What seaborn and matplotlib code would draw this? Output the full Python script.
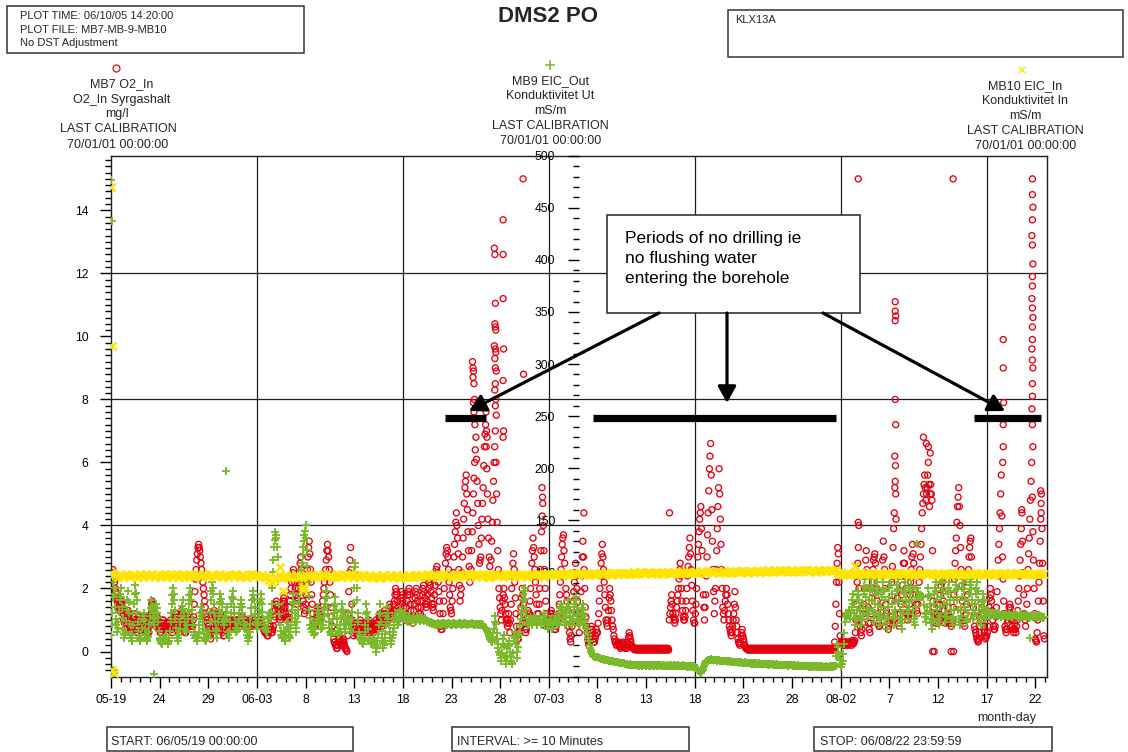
import numpy as np
import pandas as pd
import matplotlib
matplotlib.use("Agg")
import matplotlib.pyplot as plt
import matplotlib.dates as mdates
from matplotlib.ticker import FixedLocator, FixedFormatter, MultipleLocator
from matplotlib.lines import Line2D
from matplotlib.patches import Rectangle, FancyArrowPatch
import seaborn as sns

sns.set_theme(style="ticks")
plt.rcParams["font.family"] = ["Liberation Sans", "DejaVu Sans"]

# ---------------------------------------------------------------- data
START = pd.Timestamp("2006-05-19 00:00")
STOP = pd.Timestamp("2006-08-22 23:59:59")

# MB7 O2_In, mg/l: one row per day, a reading every 90 minutes
o2_may = [
    [2.2, 2.4, 2.3, 2.6, 2.5, 2.3, 2.2, 2.0, 1.9, 1.7, 1.6, 1.5, 1.5, 1.3, 1.4, 1.5],
    [1.3, 1.6, 1.5, 1.3, 1.2, 1.0, 0.9, 0.7, 0.7, 0.8, 1.0, 1.2, 1.3, 1.1, 1.2, 1.0],
    [0.8, 0.7, 0.6, 0.7, 0.9, 1.1, 1.2, 1.1, 1.0, 0.8, 0.7, 0.6, 0.6, 0.9, 1.1, 1.0],
    [0.9, 0.7, 0.6, 0.5, 0.5, 0.7, 0.8, 1.0, 1.1, 1.1, 1.0, 0.8, 0.7, 0.6, 0.6, 0.8],
    [0.9, 1.1, 1.2, 1.5, 1.6, 1.5, 1.4, 1.2, 1.0, 0.9, 0.8, 1.0, 1.1, 1.0, 0.9, 0.8],
    [0.7, 0.6, 0.6, 0.8, 0.9, 1.0, 1.0, 0.9, 0.8, 0.7, 0.6, 0.6, 0.7, 0.8, 0.9, 0.8],
    [0.8, 0.9, 1.0, 0.8, 0.7, 0.6, 0.6, 0.8, 0.9, 1.1, 1.2, 1.1, 1.0, 0.9, 0.8, 0.7],
    [0.6, 0.8, 0.9, 1.1, 1.3, 1.2, 1.1, 0.9, 0.8, 0.7, 0.6, 0.6, 0.7, 0.9, 1.0, 1.1],
    [1.2, 1.0, 0.9, 0.8, 0.7, 0.7, 0.8, 1.0, 1.1, 1.5, 1.9, 2.3, 2.6, 2.9, 3.1, 3.3],
    [3.4, 3.3, 3.2, 3.0, 2.8, 2.6, 2.4, 2.2, 2.0, 1.8, 1.6, 1.4, 1.2, 1.1, 1.0, 0.9],
    [0.8, 0.7, 0.6, 0.5, 0.4, 0.6, 0.7, 0.9, 1.0, 1.2, 1.3, 1.2, 1.1, 0.9, 0.8, 0.7],
    [0.7, 0.9, 1.0, 1.1, 1.2, 1.0, 0.9, 0.7, 0.6, 0.5, 0.5, 0.7, 0.8, 0.9, 1.0, 0.9],
    [0.9, 0.8, 0.8, 0.9, 1.0, 0.8, 0.7, 0.8, 0.9, 1.0, 1.0, 0.9, 0.8, 0.9, 0.9, 1.0],
]
o2_jun = [
    [0.9, 1.0, 1.0, 0.9, 0.8, 0.9, 0.9, 1.0, 1.1, 1.0, 0.9, 0.8, 0.8, 0.9, 1.0, 0.9],
    [0.9, 0.8, 0.8, 0.9, 1.0, 0.9, 0.9, 0.8, 0.8, 0.9, 0.9, 1.0, 1.0, 0.9, 0.8, 0.9],
    [0.9, 0.8, 0.8, 0.9, 0.9, 1.0, 1.0, 0.9, 0.9, 0.8, 0.8, 0.7, 0.7, 0.6, 0.6, 0.6],
    [0.6, 0.5, 0.5, 0.6, 0.7, 0.8, 0.8, 0.7, 0.6, 0.6, 0.7, 0.8, 1.0, 1.1, 1.3, 1.5],
    [1.6, 1.5, 1.4, 1.3, 1.2, 1.1, 1.0, 1.1, 1.3, 1.4, 1.5, 1.6, 1.7, 1.6, 1.4, 1.2],
    [1.1, 1.0, 1.0, 1.1, 1.2, 1.4, 1.6, 1.8, 2.0, 2.2, 2.4, 2.5, 2.6, 2.4, 2.2, 2.0],
    [1.8, 1.6, 1.5, 1.7, 2.0, 2.2, 2.5, 2.8, 3.0, 2.6, 2.2, 1.9, 1.6, 1.4, 1.2, 1.3],
    [1.5, 1.8, 2.2, 2.6, 3.0, 3.3, 3.5, 3.1, 2.6, 2.2, 1.8, 1.5, 1.2, 1.0, 0.9, 0.8],
    [0.8, 0.9, 1.1, 1.3, 1.4, 1.3, 1.2, 1.1, 1.0, 1.1, 1.3, 1.4, 1.6, 1.8, 2.0, 2.2],
    [2.4, 2.6, 2.9, 3.2, 3.4, 3.2, 3.0, 2.6, 2.2, 1.8, 1.4, 1.1, 0.8, 0.6, 0.4, 0.3],
    [0.3, 0.2, 0.2, 0.1, 0.1, 0.2, 0.3, 0.4, 0.5, 0.4, 0.3, 0.2, 0.2, 0.3, 0.4, 0.3],
    [0.2, 0.1, 0.1, 0.05, 0.0, 0.5, 1.2, 1.9, 2.5, 2.9, 3.3, 2.6, 1.5, 1.0, 0.6, 0.5],
    [0.7, 0.8, 0.9, 0.8, 0.6, 0.5, 0.5, 0.6, 0.8, 0.9, 1.0, 0.9, 0.7, 0.6, 0.6, 0.7],
    [0.9, 0.8, 0.7, 0.6, 0.5, 0.6, 0.8, 0.9, 1.0, 0.8, 0.6, 0.6, 0.7, 0.8, 0.9, 0.8],
    [0.6, 0.7, 0.8, 0.9, 1.0, 0.9, 0.7, 0.8, 0.9, 1.1, 1.2, 1.1, 1.0, 0.9, 0.8, 0.9],
    [1.0, 1.2, 1.3, 1.2, 1.1, 1.0, 0.9, 1.0, 1.2, 1.4, 1.5, 1.4, 1.3, 1.2, 1.1, 1.2],
    [1.3, 1.5, 1.6, 1.8, 2.0, 1.9, 1.8, 1.6, 1.4, 1.3, 1.2, 1.3, 1.5, 1.7, 1.9, 1.8],
    [1.6, 1.4, 1.2, 1.1, 1.0, 1.2, 1.4, 1.6, 1.8, 1.9, 2.0, 1.8, 1.5, 1.3, 1.1, 1.0],
    [0.9, 1.1, 1.3, 1.5, 1.7, 1.9, 2.0, 1.8, 1.6, 1.4, 1.2, 1.1, 1.0, 1.2, 1.4, 1.6],
    [1.8, 2.0, 2.1, 1.9, 1.7, 1.5, 1.4, 1.5, 1.6, 1.8, 2.0, 2.2, 2.3, 2.1, 1.9, 1.7],
    [1.5, 1.4, 1.3, 1.5, 1.8, 2.1, 2.4, 2.6, 2.7, 2.5, 2.2, 1.9, 1.6, 1.2, 0.8, 0.7],
    [0.7, 0.9, 1.2, 1.6, 2.0, 2.4, 2.8, 3.1, 3.3, 3.2, 3.0, 2.6, 2.2, 1.8, 1.4, 1.3],
    [1.2, 1.6, 2.0, 2.5, 3.0, 3.4, 3.8, 4.1, 4.4, 4.0, 3.6, 3.1, 2.6, 2.1, 1.6, 1.8],
    [2.0, 2.5, 3.0, 3.6, 4.2, 4.7, 5.2, 5.4, 5.6, 5.0, 4.5, 3.8, 3.2, 2.7, 2.2, 2.4],
    [2.6, 3.2, 3.8, 4.4, 5.0, 5.5, 6.0, 6.4, 6.8, 6.1, 5.4, 4.7, 4.0, 3.4, 2.8, 2.9],
    [3.0, 3.6, 4.2, 4.7, 5.2, 5.9, 6.5, 6.9, 7.2, 6.5, 5.8, 5.0, 4.2, 3.6, 3.0, 2.7],
    [2.4, 2.9, 3.5, 4.1, 4.8, 5.4, 6.0, 6.5, 7.0, 6.0, 5.0, 4.1, 3.2, 2.6, 2.0, 1.7],
    [1.4, 1.2, 1.0, 1.3, 1.6, 1.8, 2.0, 1.7, 1.5, 1.2, 1.0, 0.9, 0.8, 1.0, 1.2, 0.9],
    [0.6, 1.0, 1.5, 2.0, 2.4, 2.8, 3.1, 2.6, 2.2, 1.7, 1.2, 0.8, 0.5, 0.4, 0.4, 0.6],
    [0.8, 1.1, 1.4, 1.7, 2.0, 1.8, 1.5, 1.2, 0.9, 0.7, 0.6, 0.7, 0.9, 1.1, 1.3, 1.2],
]
o2_jul = [
    [1.2, 1.6, 2.0, 2.4, 2.8, 3.2, 3.6, 3.3, 3.0, 2.6, 2.2, 1.8, 1.5, 1.2, 1.0, 1.2],
    [1.5, 2.0, 2.6, 3.2, 3.8, 4.3, 4.7, 4.0, 3.2, 2.6, 2.0, 1.6, 1.2, 1.0, 0.9, 0.8],
    [0.8, 0.9, 1.0, 1.2, 1.3, 1.2, 1.1, 1.0, 0.9, 0.8, 0.7, 0.7, 0.8, 0.9, 1.0, 1.1],
    [1.2, 1.5, 1.8, 2.2, 2.6, 3.0, 3.4, 3.6, 3.7, 3.2, 2.8, 2.4, 2.0, 1.8, 1.6, 1.3],
    [1.0, 0.8, 0.6, 0.4, 0.3, 0.5, 0.8, 1.2, 1.6, 1.9, 2.2, 2.5, 2.8, 2.4, 2.0, 1.6],
    [1.2, 0.9, 0.6, 1.0, 1.4, 1.9, 2.4, 3.0, 3.5, 3.0, 2.6, 2.0, 1.4, 1.1, 0.8, 0.6],
    [0.4, 0.3, 0.2, 0.3, 0.5, 0.7, 0.8, 0.7, 0.6, 0.4, 0.3, 0.3, 0.4, 0.5, 0.7, 0.6],
    [0.6, 0.9, 1.2, 1.6, 2.0, 2.4, 2.8, 3.1, 3.4, 3.0, 2.6, 2.2, 1.8, 1.4, 1.0, 0.9],
    [0.8, 1.0, 1.3, 1.7, 2.0, 1.8, 1.6, 1.3, 1.0, 0.8, 0.7, 0.5, 0.4, 0.3, 0.3, 0.2],
    [0.2, 0.25, 0.3, 0.25, 0.2, 0.15, 0.1, 0.15, 0.2, 0.25, 0.3, 0.25, 0.2, 0.15, 0.1, 0.1],
    [0.1, 0.2, 0.3, 0.45, 0.6, 0.5, 0.4, 0.3, 0.2, 0.15, 0.1, 0.1, 0.1, 0.05, 0.1, 0.1],
    [0.1, 0.05, 0.1, 0.05, 0.1, 0.05, 0.1, 0.05, 0.1, 0.05, 0.1, 0.05, 0.1, 0.05, 0.1, 0.05],
    [0.1, 0.05, 0.1, 0.05, 0.1, 0.05, 0.1, 0.05, 0.1, 0.05, 0.1, 0.05, 0.1, 0.05, 0.1, 0.05],
    [0.1, 0.05, 0.1, 0.05, 0.1, 0.05, 0.1, 0.05, 0.1, 0.05, 0.1, 0.05, 0.1, 0.05, 0.1, 0.05],
    [0.1, 0.05, 0.1, 0.05, 0.1, 0.05, 1.0, 1.2, 1.4, 1.6, 1.8, 1.5, 1.2, 1.1, 1.0, 0.9],
    [1.0, 1.2, 1.4, 1.6, 1.8, 2.0, 2.3, 2.6, 2.8, 2.4, 2.0, 1.6, 1.3, 1.1, 1.0, 1.0],
    [1.1, 1.3, 1.6, 2.0, 2.4, 2.7, 3.0, 3.3, 3.6, 3.1, 2.6, 2.1, 1.6, 1.3, 1.0, 0.9],
    [0.9, 1.2, 1.5, 2.0, 2.5, 3.0, 3.4, 3.8, 4.2, 4.4, 4.6, 3.9, 3.2, 2.5, 1.8, 1.4],
    [1.0, 1.4, 1.8, 2.4, 3.0, 3.7, 4.4, 5.1, 5.8, 6.2, 6.6, 5.6, 4.5, 3.5, 2.6, 1.9],
    [1.2, 1.6, 2.0, 2.6, 3.2, 3.9, 4.6, 5.2, 5.8, 5.0, 4.2, 3.4, 2.6, 2.0, 1.4, 1.2],
    [1.0, 1.3, 1.6, 1.8, 2.0, 1.8, 1.5, 1.2, 1.0, 0.8, 0.7, 0.6, 0.5, 0.6, 0.8, 1.0],
    [1.2, 1.5, 1.9, 1.4, 1.0, 0.8, 0.6, 0.4, 0.3, 0.25, 0.2, 0.3, 0.5, 0.6, 0.7, 0.5],
    [0.4, 0.3, 0.2, 0.15, 0.1, 0.1, 0.1, 0.05, 0.1, 0.05, 0.1, 0.05, 0.1, 0.05, 0.1, 0.05],
    [0.1, 0.05, 0.1, 0.05, 0.1, 0.05, 0.1, 0.05, 0.1, 0.05, 0.1, 0.05, 0.1, 0.05, 0.1, 0.05],
    [0.1, 0.05, 0.1, 0.05, 0.1, 0.05, 0.1, 0.05, 0.1, 0.05, 0.1, 0.05, 0.1, 0.05, 0.1, 0.05],
    [0.1, 0.05, 0.1, 0.05, 0.1, 0.05, 0.1, 0.05, 0.1, 0.05, 0.1, 0.05, 0.1, 0.05, 0.1, 0.05],
    [0.1, 0.05, 0.1, 0.05, 0.1, 0.05, 0.1, 0.05, 0.1, 0.05, 0.1, 0.05, 0.1, 0.05, 0.1, 0.05],
    [0.1, 0.05, 0.1, 0.05, 0.1, 0.05, 0.1, 0.05, 0.1, 0.05, 0.1, 0.05, 0.1, 0.05, 0.1, 0.05],
    [0.1, 0.05, 0.1, 0.05, 0.1, 0.05, 0.1, 0.05, 0.1, 0.05, 0.1, 0.05, 0.1, 0.05, 0.1, 0.05],
    [0.1, 0.05, 0.1, 0.05, 0.1, 0.05, 0.1, 0.05, 0.1, 0.05, 0.1, 0.05, 0.1, 0.05, 0.1, 0.05],
    [0.1, 0.05, 0.1, 0.05, 0.1, 0.05, 0.1, 0.05, 0.1, 0.05, 0.1, 0.05, 0.1, 0.05, 0.1, 0.05],
]
o2_aug = [
    [0.1, 0.05, 0.1, 0.05, 0.1, 0.05, 0.3, 0.8, 1.5, 2.2, 2.8, 3.3, 3.1, 2.2, 1.2, 0.5],
    [0.3, 0.25, 0.3, 0.2, 0.25, 0.3, 0.2, 0.3, 0.25, 0.2, 0.3, 0.25, 0.3, 0.2, 0.25, 0.3],
    [0.25, 0.3, 0.2, 0.35, 0.3, 0.25, 0.3, 0.35, 0.6, 1.0, 1.5, 2.2, 2.8, 3.3, 2.0, 1.2],
    [0.8, 0.6, 0.5, 0.7, 0.9, 1.2, 1.5, 2.0, 2.5, 2.9, 3.2, 2.6, 2.0, 1.4, 0.9, 0.7],
    [0.6, 0.9, 1.2, 1.7, 2.2, 2.6, 2.9, 3.0, 3.1, 2.8, 2.4, 2.0, 1.6, 1.2, 0.9, 0.8],
    [0.8, 1.1, 1.4, 1.9, 2.4, 2.9, 3.5, 3.0, 2.6, 2.0, 1.5, 1.3, 1.2, 0.9, 0.7, 0.8],
    [0.9, 1.0, 1.1, 1.6, 2.2, 2.7, 3.3, 3.9, 4.4, 5.2, 5.9, 4.2, 2.5, 1.7, 1.2, 0.9],
    [0.8, 1.0, 1.2, 1.5, 1.8, 2.1, 2.4, 2.8, 3.2, 2.8, 2.4, 2.0, 1.5, 1.2, 1.0, 1.1],
    [1.2, 1.5, 1.8, 2.2, 2.6, 3.0, 3.4, 3.1, 2.8, 2.4, 2.0, 1.8, 1.5, 1.3, 1.2, 1.5],
    [1.8, 2.2, 2.6, 3.0, 3.4, 3.9, 4.4, 4.7, 5.0, 5.3, 5.6, 5.2, 4.8, 5.0, 5.2, 5.6],
    [6.0, 5.3, 4.6, 5.0, 5.3, 5.0, 4.8, 3.2, 1.6, 1.4, 1.2, 1.0, 0.9, 1.2, 1.5, 1.2],
    [0.9, 1.0, 1.2, 1.5, 1.8, 2.1, 2.4, 2.2, 1.9, 1.6, 1.3, 1.1, 0.9, 1.0, 1.1, 1.2],
    [1.4, 1.2, 0.9, 1.0, 1.1, 0.9, 0.8, 0.9, 1.0, 1.4, 1.8, 2.3, 2.8, 3.2, 3.6, 4.1],
    [4.6, 4.9, 5.2, 4.6, 4.0, 3.3, 2.6, 2.1, 1.6, 1.3, 1.0, 0.9, 0.8, 1.0, 1.2, 1.5],
    [1.8, 2.2, 2.6, 3.0, 3.3, 3.5, 3.6, 3.0, 2.4, 1.9, 1.4, 1.1, 0.8, 0.7, 0.6, 0.5],
    [0.4, 0.35, 0.3, 0.4, 0.6, 0.8, 1.0, 1.2, 1.4, 1.2, 1.0, 0.8, 0.6, 0.5, 0.4, 0.45],
    [0.5, 0.6, 0.8, 1.1, 1.4, 1.7, 2.0, 1.8, 1.6, 1.3, 1.0, 0.8, 0.7, 0.7, 0.8, 1.1],
    [1.4, 1.9, 2.4, 2.9, 3.4, 3.9, 4.4, 5.0, 5.6, 4.3, 3.0, 2.3, 1.6, 1.2, 0.8, 0.7],
    [0.6, 0.7, 0.9, 1.0, 1.2, 1.4, 1.5, 1.4, 1.2, 1.0, 0.8, 0.7, 0.6, 0.7, 0.9, 0.7],
    [0.6, 0.8, 1.0, 1.3, 1.6, 2.0, 2.4, 2.9, 3.4, 3.9, 4.4, 3.5, 2.5, 1.8, 1.2, 1.0],
    [0.8, 1.1, 1.5, 2.0, 2.6, 3.1, 3.6, 4.2, 4.8, 5.4, 6.0, 4.9, 3.8, 2.9, 2.0, 1.2],
    [0.4, 0.35, 0.3, 0.6, 1.0, 1.6, 2.2, 2.8, 3.5, 4.2, 5.0, 3.9, 2.8, 1.6, 0.5, 0.4],
]

# short O2 excursions logged between the regular readings (days after start, mg/l)
o2_peak_day = [
    37.15, 37.2, 37.25, 37.2, 37.3, 37.35, 37.25, 37.3, 37.4,
    38.55, 38.6, 38.65,
    39.4, 39.45, 39.5, 39.45, 39.5, 39.55, 39.4, 39.5, 39.55, 39.45, 39.5, 39.6, 39.5, 39.45, 39.55, 39.5, 39.6,
    40.3, 40.3, 40.3, 40.35, 40.3, 40.35, 40.3,
    42.35, 42.4,
    44.3, 44.35,
    48.6, 57.4,
    76.8, 76.8, 76.85,
    80.6, 80.6, 80.65, 80.6, 80.6, 80.65, 80.55, 80.6, 80.65,
    83.5, 83.8, 84.0, 84.2,
    84.45, 84.6, 86.35, 86.6, 86.55,
    91.7, 91.7, 91.75, 91.7, 91.7, 91.65,
    94.7, 94.7, 94.75, 94.7, 94.65, 94.7, 94.75, 94.7, 94.7, 94.65, 94.7,
    94.75, 94.7, 94.7, 94.65, 94.7, 94.75, 94.7, 94.7, 94.65, 94.7, 94.75,
    95.55, 95.6, 95.6, 93.6,
]
o2_peak_mgl = [
    9.2, 9.0, 8.9, 8.7, 8.5, 8.0, 7.9, 7.6, 7.2,
    7.6, 7.0, 6.8,
    12.8, 12.6, 11.05, 10.4, 10.3, 10.2, 9.7, 9.6, 9.5, 9.3, 9.0, 8.9, 8.5, 8.3, 8.0, 7.8, 7.5,
    13.7, 12.6, 11.2, 9.6, 8.6, 7.0, 6.8,
    15.0, 8.8,
    5.2, 4.9,
    4.4, 4.4,
    15.0, 4.1, 4.0,
    11.1, 10.8, 10.65, 10.5, 8.0, 7.2, 6.2, 5.4, 5.0,
    6.8, 6.6, 6.5, 6.3,
    0.0, 0.0, 0.0, 0.0, 15.0,
    9.9, 9.0, 7.9, 7.2, 6.5, 6.0,
    15.0, 14.5, 14.1, 13.7, 13.2, 12.9, 12.3, 11.9, 11.6, 11.2, 10.9,
    10.6, 10.3, 9.9, 9.6, 9.25, 9.0, 8.5, 8.1, 7.7, 7.2, 6.5,
    5.1, 4.7, 4.4, 4.5,
]

# MB9 EIC_Out, mS/m: one row per day, a reading every 90 minutes
eic_out_may = [
    [40, 50, 61, 76, 91, 85, 79, 67, 55, 49, 43, 47, 52, 62, 73, 79],
    [85, 76, 67, 56, 46, 41, 37, 40, 43, 53, 64, 73, 82, 72, 61, 50],
    [40, 37, 34, 41, 49, 60, 70, 79, 88, 80, 73, 62, 52, 44, 37, 35],
    [34, 37, 40, 47, 55, 58, 61, 54, 46, 41, 37, 35, 34, 38, 43, 50],
    [58, 66, 73, 68, 64, 56, 49, 52, 55, 62, 70, 66, 61, 56, 52, 44],
    [37, 35, 34, 32, 31, 34, 37, 35, 34, 37, 40, 37, 34, 32, 31, 34],
    [37, 44, 52, 61, 70, 78, 85, 79, 73, 64, 55, 47, 40, 37, 34, 37],
    [40, 46, 52, 58, 64, 68, 73, 65, 58, 52, 46, 44, 43, 49, 55, 62],
    [70, 78, 85, 79, 73, 64, 55, 49, 43, 40, 37, 38, 40, 37, 34, 38],
    [43, 49, 55, 61, 67, 62, 58, 52, 46, 41, 37, 35, 34, 37, 40, 38],
    [37, 44, 52, 62, 73, 82, 91, 85, 79, 70, 61, 53, 46, 41, 37, 44],
    [52, 58, 64, 72, 79, 74, 70, 62, 55, 52, 49, 53, 58, 62, 67, 55],
    [43, 40, 37, 44, 52, 61, 70, 76, 82, 74, 67, 60, 52, 47, 43, 44],
]
eic_out_jun = [
    [46, 50, 55, 61, 67, 70, 73, 67, 61, 56, 52, 49, 46, 47, 49, 44],
    [40, 37, 34, 38, 43, 50, 58, 66, 73, 78, 82, 74, 67, 60, 52, 49],
    [46, 50, 55, 60, 64, 72, 79, 74, 70, 62, 55, 52, 49, 47, 46, 44],
    [43, 47, 52, 57, 61, 58, 55, 62, 70, 85, 100, 112, 124, 131, 139, 136],
    [133, 124, 115, 92, 70, 60, 49, 44, 40, 38, 37, 40, 43, 38, 34, 38],
    [43, 48, 52, 46, 40, 38, 37, 43, 49, 56, 64, 72, 79, 70, 61, 52],
    [43, 47, 52, 58, 64, 72, 79, 86, 94, 102, 109, 117, 124, 130, 136, 140],
    [145, 133, 121, 106, 91, 77, 64, 56, 49, 46, 43, 47, 52, 46, 40, 42],
    [46, 50, 55, 61, 67, 64, 61, 56, 52, 49, 46, 47, 49, 53, 58, 64],
    [70, 76, 82, 75, 67, 60, 52, 47, 43, 41, 40, 44, 49, 55, 61, 68],
    [76, 70, 64, 56, 49, 44, 40, 41, 43, 49, 55, 62, 70, 64, 58, 50],
    [43, 46, 49, 50, 52, 56, 61, 55, 49, 46, 43, 49, 55, 62, 70, 85],
    [100, 105, 109, 97, 85, 73, 61, 52, 43, 40, 37, 35, 34, 32, 31, 34],
    [37, 43, 49, 60, 70, 62, 55, 46, 37, 35, 34, 32, 31, 32, 34, 36],
    [37, 34, 31, 27, 24, 29, 34, 41, 49, 60, 70, 61, 52, 44, 37, 32],
    [27, 30, 34, 41, 49, 58, 67, 61, 55, 49, 43, 37, 31, 34, 37, 40],
    [43, 47, 52, 56, 61, 58, 55, 52, 49, 53, 58, 61, 64, 62, 61, 60],
    [58, 56, 55, 58, 61, 58, 55, 53, 52, 55, 58, 56, 55, 53, 52, 54],
    [55, 57, 58, 55, 52, 53, 55, 57, 58, 56, 55, 54, 53, 55, 56, 55],
    [55, 54, 53, 55, 56, 55, 54, 53, 52, 52, 53, 52, 51, 51, 52, 51],
    [50, 51, 51, 50, 50, 49, 49, 50, 50, 51, 51, 50, 50, 49, 49, 50],
    [50, 50, 51, 51, 50, 50, 50, 49, 49, 50, 50, 51, 51, 50, 50, 49],
    [49, 50, 50, 51, 51, 50, 50, 49, 49, 50, 50, 50, 50, 51, 51, 50],
    [50, 49, 49, 50, 50, 51, 51, 50, 50, 49, 49, 50, 50, 50, 50, 50],
    [50, 51, 51, 50, 50, 49, 49, 50, 50, 50, 50, 49, 49, 50, 50, 49],
    [49, 50, 50, 49, 49, 48, 48, 47, 47, 46, 45, 44, 42, 40, 39, 37],
    [36, 34, 33, 35, 38, 42, 46, 52, 58, 50, 42, 36, 31, 27, 24, 22],
    [21, 18, 15, 23, 31, 36, 40, 29, 18, 15, 12, 20, 27, 31, 34, 29],
    [24, 19, 15, 13, 12, 23, 34, 39, 43, 37, 31, 24, 18, 28, 37, 40],
    [43, 49, 55, 61, 67, 73, 79, 82, 85, 74, 64, 58, 52, 50, 49, 50],
]
eic_out_jul = [
    [52, 54, 55, 52, 49, 50, 52, 55, 58, 56, 55, 52, 49, 50, 52, 53],
    [55, 53, 52, 50, 49, 52, 55, 58, 61, 58, 55, 53, 52, 49, 46, 47],
    [49, 52, 55, 53, 52, 49, 46, 49, 52, 55, 58, 55, 52, 50, 49, 50],
    [52, 56, 61, 66, 70, 67, 64, 60, 55, 52, 49, 53, 58, 62, 67, 70],
    [73, 67, 61, 56, 52, 50, 49, 53, 58, 64, 70, 73, 76, 70, 64, 60],
    [55, 52, 49, 50, 52, 56, 61, 66, 70, 64, 58, 53, 49, 47, 46, 43],
    [40, 37, 34, 30, 27, 25, 24, 22, 21, 20, 20, 19, 19, 19, 19, 19],
    [19, 19, 18, 18, 18, 17, 17, 17, 17, 17, 17, 16, 16, 16, 16, 16],
    [16, 16, 16, 15, 15, 15, 15, 15, 15, 15, 15, 14, 14, 14, 14, 14],
    [14, 14, 14, 13, 13, 13, 13, 13, 13, 13, 13, 13, 13, 12, 12, 12],
    [12, 12, 11, 11, 11, 12, 12, 11, 11, 11, 11, 11, 11, 11, 11, 11],
    [11, 11, 11, 10, 10, 11, 11, 11, 11, 10, 10, 11, 11, 11, 11, 11],
    [10, 11, 11, 11, 11, 10, 10, 11, 11, 11, 11, 11, 10, 10, 11, 11],
    [11, 11, 10, 10, 11, 11, 11, 11, 10, 10, 10, 10, 11, 11, 10, 10],
    [10, 10, 11, 11, 10, 10, 10, 10, 11, 11, 10, 10, 10, 10, 11, 11],
    [10, 10, 10, 10, 11, 10, 10, 10, 10, 10, 10, 10, 11, 10, 10, 10],
    [10, 10, 10, 9, 9, 10, 10, 9, 10, 10, 10, 9, 10, 9, 10, 9],
    [9, 9, 8, 8, 7, 6, 5, 5, 4, 4, 3, 4, 5, 6, 8, 10],
    [12, 13, 14, 15, 15, 16, 16, 16, 16, 16, 17, 17, 16, 16, 16, 16],
    [16, 16, 16, 16, 15, 16, 16, 16, 16, 15, 15, 15, 15, 15, 15, 15],
    [15, 15, 15, 15, 15, 15, 14, 15, 15, 15, 15, 14, 14, 14, 14, 14],
    [14, 14, 14, 14, 14, 14, 14, 14, 13, 14, 14, 14, 14, 13, 13, 13],
    [13, 13, 14, 13, 13, 13, 13, 13, 13, 13, 13, 13, 13, 12, 12, 12],
    [13, 12, 12, 13, 13, 12, 12, 12, 12, 13, 13, 12, 12, 12, 12, 12],
    [12, 12, 12, 12, 12, 12, 12, 12, 12, 11, 11, 12, 12, 12, 12, 12],
    [11, 11, 12, 11, 11, 11, 11, 12, 12, 11, 11, 11, 11, 11, 11, 11],
    [11, 11, 11, 11, 11, 11, 11, 11, 11, 10, 10, 11, 11, 11, 11, 11],
    [11, 10, 10, 11, 11, 10, 10, 10, 10, 11, 11, 10, 10, 10, 10, 10],
    [10, 10, 10, 10, 10, 10, 10, 10, 10, 10, 10, 10, 9, 9, 10, 10],
    [10, 9, 9, 10, 10, 10, 10, 9, 9, 10, 10, 9, 9, 9, 10, 10],
    [9, 10, 10, 9, 9, 9, 9, 10, 10, 9, 9, 9, 9, 9, 10, 10],
]
eic_out_aug = [
    [9, 10, 10, 9, 9, 10, 10, 10, 10, 20, 31, 28, 24, 21, 18, 16],
    [12, 9, 12, 15, 22, 31, 42, 52, 57, 61, 60, 58, 61, 64, 62, 61],
    [55, 61, 67, 73, 79, 70, 61, 55, 49, 56, 64, 73, 82, 78, 73, 66],
    [58, 54, 49, 55, 61, 70, 79, 87, 94, 85, 76, 66, 55, 60, 64, 73],
    [82, 88, 94, 84, 73, 63, 52, 56, 61, 70, 79, 85, 91, 81, 70, 60],
    [49, 54, 58, 67, 76, 84, 91, 82, 73, 64, 55, 51, 46, 57, 67, 76],
    [85, 91, 97, 88, 79, 70, 61, 55, 49, 57, 64, 73, 82, 88, 94, 84],
    [73, 64, 55, 51, 46, 54, 61, 70, 79, 85, 91, 82, 73, 64, 55, 60],
    [64, 72, 79, 87, 94, 84, 73, 64, 55, 52, 49, 58, 67, 76, 85, 81],
    [76, 76, 76, 77, 77, 77, 76, 76, 76, 69, 61, 57, 52, 60, 67, 76],
    [85, 78, 70, 63, 55, 51, 46, 54, 61, 70, 79, 85, 91, 82, 73, 64],
    [55, 52, 49, 58, 67, 76, 85, 90, 94, 82, 70, 61, 52, 57, 61, 70],
    [79, 85, 91, 82, 73, 64, 55, 52, 49, 57, 64, 73, 82, 88, 94, 84],
    [73, 64, 55, 52, 49, 58, 67, 76, 85, 90, 94, 84, 73, 64, 55, 54],
    [52, 61, 70, 79, 88, 91, 94, 84, 73, 64, 55, 58, 61, 70, 79, 85],
    [91, 82, 73, 64, 55, 52, 49, 57, 64, 72, 79, 73, 67, 61, 55, 58],
    [61, 62, 64, 62, 61, 60, 58, 59, 61, 61, 61, 60, 58, 59, 61, 60],
    [60, 59, 58, 60, 61, 60, 59, 58, 57, 58, 60, 59, 58, 58, 59, 59],
    [59, 58, 57, 58, 60, 59, 58, 58, 59, 58, 57, 57, 58, 59, 60, 59],
    [58, 58, 59, 58, 57, 57, 58, 59, 60, 58, 57, 57, 58, 58, 59, 58],
    [57, 58, 59, 58, 58, 57, 56, 57, 58, 58, 59, 58, 57, 57, 58, 58],
    [58, 57, 56, 56, 57, 58, 59, 58, 57, 57, 58, 57, 56, 56, 57, 57],
]
eic_out_odd_day = [0.05, 0.1, 0.05, 0.2, 0.3, 4.4, 11.8, 82.8, 94.5]
eic_out_odd_mspm = [477, 437, 4, 6, 3, 2, 197, 127, 37]

# MB10 EIC_In, mS/m, one reading every 6 hours (4 per day)
eic_in_may = [
    99, 98, 97, 96,  97, 96, 98, 97,  96, 97, 97, 96,  98, 96, 97, 97,
    97, 98, 96, 97,  96, 97, 98, 96,  97, 96, 97, 98,  96, 97, 96, 97,
    98, 97, 96, 97,  97, 96, 98, 97,  96, 97, 97, 96,  97, 98, 96, 97,
    96, 97, 97, 98,
]
eic_in_jun = [
    97, 96, 97, 96,  96, 97, 98, 97,  97, 96, 97, 96,  96, 93, 91, 94,
    96, 97, 95, 96,  97, 96, 97, 96,  97, 96, 96, 86,  97, 96, 97, 97,
    96, 97, 96, 98,  97, 96, 97, 96,  96, 98, 97, 96,  97, 96, 97, 98,
    96, 97, 96, 97,  97, 96, 97, 96,  96, 97, 95, 96,  97, 96, 96, 97,
    96, 97, 96, 95,  97, 96, 97, 96,  96, 97, 97, 96,  97, 96, 98, 97,
    96, 97, 96, 97,  97, 98, 96, 97,  96, 97, 97, 98,  97, 96, 98, 97,
    98, 97, 96, 97,  97, 98, 97, 96,  96, 97, 98, 97,  97, 96, 97, 98,
    98, 97, 96, 97,  97, 98, 97, 96,
]
eic_in_jul = [
    97, 98, 97, 98,  98, 97, 96, 98,  97, 98, 98, 97,  98, 97, 98, 99,
    97, 98, 99, 98,  98, 99, 97, 98,  99, 98, 98, 97,  98, 99, 98, 99,
    99, 98, 97, 99,  98, 99, 99, 98,  99, 98, 99, 100,  98, 99, 100, 99,
    99, 100, 98, 99,  100, 99, 99, 98,  99, 100, 99, 100,  100, 99, 98, 100,
    99, 100, 100, 99,  100, 99, 100, 101,  99, 100, 101, 100,  100, 101, 99, 100,
    101, 100, 100, 99,  100, 101, 100, 101,  101, 100, 99, 101,  100, 101, 101, 100,
    101, 100, 102, 101,  100, 101, 101, 102,  101, 102, 100, 101,  102, 101, 101, 100,
    101, 102, 102, 101,  102, 101, 100, 102,  101, 102, 101, 102,
]
eic_in_aug = [
    102, 101, 102, 99,  98, 97, 98, 99,  98, 99, 97, 98,  99, 98, 98, 99,
    98, 99, 98, 97,  99, 98, 99, 98,  98, 97, 99, 98,  99, 98, 98, 99,
    98, 99, 97, 98,  97, 98, 99, 98,  98, 99, 98, 97,  99, 98, 98, 99,
    98, 97, 99, 98,  99, 98, 97, 98,  98, 99, 98, 99,  97, 98, 99, 98,
    98, 99, 98, 97,  99, 98, 98, 99,  98, 97, 99, 98,  99, 98, 98, 99,
    98, 99, 97, 98,  98, 98, 99, 98,
]
eic_in_odd_day = [0.05, 0.1, 0.1, 0.3, 16.5, 17.4, 17.7, 19.7, 19.8, 76.5]
eic_in_odd_mspm = [470, 317, 6, 3, 91, 105, 82, 83, 86, 106]

# periods without drilling (no flushing water into the borehole)
idle_start = ["2006-06-22 07:00", "2006-07-07 12:00", "2006-08-15 17:00"]
idle_end = ["2006-06-26 12:00", "2006-08-01 12:00", "2006-08-22 13:00"]

day_labels = ["05-19", "24", "29", "06-03", "8", "13", "18", "23", "28", "07-03",
              "8", "13", "18", "23", "28", "08-02", "7", "12", "17", "22"]


# ---------------------------------------------------------------- series
def daily_rows(*months):
    rows = [r for m in months for r in m]
    bad = [i for i, r in enumerate(rows) if len(r) != 16]
    assert not bad, f"rows with wrong length: {bad}"
    return np.array(rows, dtype=float).ravel()


o2 = daily_rows(o2_may, o2_jun, o2_jul, o2_aug)
eic_out = daily_rows(eic_out_may, eic_out_jun, eic_out_jul, eic_out_aug)
eic_in = np.array(eic_in_may + eic_in_jun + eic_in_jul + eic_in_aug, dtype=float)
assert len(o2) == 96 * 16 and len(eic_out) == 96 * 16, (len(o2), len(eic_out))
assert len(eic_in) == 96 * 4, len(eic_in)
assert len(o2_peak_day) == len(o2_peak_mgl)

t90 = START + pd.to_timedelta(np.arange(96 * 16) * 90, unit="min")
t6h = START + pd.to_timedelta(np.arange(96 * 4) * 6, unit="h")

o2_t = t90.append(START + pd.to_timedelta(o2_peak_day, unit="D"))
o2_v = np.concatenate([o2, o2_peak_mgl])
out_t = t90.append(START + pd.to_timedelta(eic_out_odd_day, unit="D"))
out_v = np.concatenate([eic_out, eic_out_odd_mspm])
in_t = t6h.append(START + pd.to_timedelta(eic_in_odd_day, unit="D"))
in_v = np.concatenate([eic_in, eic_in_odd_mspm])

RED = "#e3000f"
GREEN = "#7ab929"
YELLOW = "#ffe400"
INK = "#1e1e1e"

W, H = 1128, 752
fig = plt.figure(figsize=(W / 100, H / 100), dpi=100)


def fp(x, y):
    """pixel position (from top-left) -> figure fraction"""
    return x / W, 1 - y / H


ax = fig.add_axes([111 / W, 1 - 676.5 / H, 936 / W, 520.8 / H])
ax2 = ax.twinx()

sns.scatterplot(x=o2_t, y=o2_v, ax=ax, marker="o", s=19, color=RED,
                facecolor="none", edgecolor=RED, linewidth=0.95, legend=False, zorder=2)
sns.scatterplot(x=out_t, y=out_v, ax=ax2, marker="+", s=38, color=GREEN,
                linewidth=1.35, legend=False, zorder=3)
sns.scatterplot(x=in_t, y=in_v, ax=ax2, marker="x", s=34, color=YELLOW,
                linewidth=1.7, legend=False, zorder=3.1)

x0 = mdates.date2num(START)
x1 = mdates.date2num(START + pd.Timedelta(days=96.2))
ax.set_xlim(x0, x1)
ax.set_ylim(-0.793, 15.735)
ax2.set_ylim(0, 500)

# x axis: major every 5 days, minor daily
tick_dates = pd.date_range(START, periods=len(day_labels), freq="5D")
ax.xaxis.set_major_locator(FixedLocator(mdates.date2num(tick_dates)))
ax.xaxis.set_major_formatter(FixedFormatter(day_labels))
ax.xaxis.set_minor_locator(FixedLocator(mdates.date2num(
    pd.date_range(START, START + pd.Timedelta(days=96), freq="D"))))
ax.set_xlabel("")
ax.set_ylabel("")
ax2.set_ylabel("")

# left axis (mg/l)
ax.yaxis.set_major_locator(MultipleLocator(2))
ax.yaxis.set_minor_locator(MultipleLocator(0.2))
ax.tick_params(axis="x", which="major", direction="out", length=7.9, width=1,
               pad=5, labelsize=8.7, colors="black", bottom=True, top=False)
ax.tick_params(axis="x", which="minor", direction="out", length=3.6, width=1,
               colors="black", bottom=True, top=False)
ax.tick_params(axis="y", which="major", direction="out", length=7.9, width=1,
               pad=8.4, labelsize=8.7, colors="black", left=True, right=False)
ax.tick_params(axis="y", which="minor", direction="out", length=4.3, width=1,
               colors="black", left=True, right=False)

# middle axis (mS/m), floating in the centre of the plot
ax2.yaxis.set_ticks_position("left")
ax2.spines["left"].set_position(("axes", 0.5))
for sp in ax2.spines.values():
    sp.set_visible(False)
ax2.yaxis.set_major_locator(FixedLocator(np.arange(50, 501, 50)))
ax2.yaxis.set_minor_locator(MultipleLocator(10))
ax2.tick_params(axis="y", which="major", direction="out", length=7.9, width=1,
                pad=9.2, labelsize=8.7, colors="black", left=True, right=False,
                labelleft=True, labelright=False)
ax2.tick_params(axis="y", which="minor", direction="out", length=4.3, width=1,
                colors="black", left=True, right=False)

for sp in ax.spines.values():
    sp.set_visible(True)
    sp.set_color(INK)
    sp.set_linewidth(1.0)

# grid: every 15 days and every 4 mg/l
for d in pd.date_range("2006-06-03", periods=6, freq="15D"):
    ax.axvline(mdates.date2num(d), color=INK, lw=0.9, zorder=0.5)
for v in (4, 8, 12):
    ax.axhline(v, color=INK, lw=0.9, zorder=0.5)

# no-drilling periods
for a, b in zip(idle_start, idle_end):
    ax.plot([mdates.date2num(pd.Timestamp(a)), mdates.date2num(pd.Timestamp(b))],
            [0.4965, 0.4965], transform=ax.get_xaxis_transform(),
            color="black", lw=5.2, solid_capstyle="butt", zorder=6)

# ---------------------------------------------------------------- annotation
fig.add_artist(Rectangle(fp(607, 313), 253 / W, 98 / H, transform=fig.transFigure,
                         facecolor="white", edgecolor="#333333", lw=1.2, zorder=5))
for i, line in enumerate(["Periods of no drilling ie", "no flushing water",
                          "entering the borehole"]):
    fig.text(*fp(625, 242.5 + 20.5 * i), line, fontsize=12.5, ha="left",
             va="baseline", color="black", zorder=6)
for (xa, ya), (xb, yb) in [((659, 313), (469, 411)),
                           ((727, 313), (727, 403)),
                           ((823, 313), (1005, 411))]:
    fig.add_artist(FancyArrowPatch(fp(xa, ya), fp(xb, yb), transform=fig.transFigure,
                                   arrowstyle="-|>,head_length=1.0,head_width=0.55",
                                   mutation_scale=10, lw=2.3, color="black",
                                   shrinkA=0, shrinkB=0, zorder=7))

# ---------------------------------------------------------------- header
fig.text(*fp(548, 17), "DMS2 PO", fontsize=16, fontweight="bold",
         ha="center", va="center")

fig.add_artist(Rectangle(fp(7, 53), 297 / W, 47 / H, transform=fig.transFigure,
                         facecolor="none", edgecolor="#333333", lw=1.1))
for i, line in enumerate(["PLOT TIME: 06/10/05 14:20:00",
                          "PLOT FILE: MB7-MB-9-MB10", "No DST Adjustment"]):
    fig.text(*fp(20.5, 16 + 13.7 * i), line, fontsize=8, ha="left", va="center")

fig.add_artist(Rectangle(fp(728, 57), 395 / W, 47 / H, transform=fig.transFigure,
                         facecolor="none", edgecolor="#333333", lw=1.1))
fig.text(*fp(735, 20.3), "KLX13A", fontsize=8, ha="left", va="center")

legend_blocks = [
    ((116, 67.5), dict(marker="o", mfc="none", mec=RED, ms=5, mew=0.9),
     [122, 122, 116.5, 118, 118], 87.5,
     ["MB7 O2_In", "O2_In Syrgashalt", "mg/l", "LAST CALIBRATION", "70/01/01 00:00:00"]),
    ((549.5, 64.5), dict(marker="+", mec=GREEN, ms=6.5, mew=1.1),
     [550.5] * 5, 84.3,
     ["MB9 EIC_Out", "Konduktivitet Ut", "mS/m", "LAST CALIBRATION", "70/01/01 00:00:00"]),
    ((1022, 70), dict(marker="x", mec=YELLOW, ms=5, mew=1.1),
     [1025.5] * 5, 89.3,
     ["MB10 EIC_In", "Konduktivitet In", "mS/m", "LAST CALIBRATION", "70/01/01 00:00:00"]),
]
for (mx, my), mstyle, cx, base, lines in legend_blocks:
    px, py = fp(mx, my)
    fig.add_artist(Line2D([px], [py], ls="none", transform=fig.transFigure, **mstyle))
    for i, line in enumerate(lines):
        fig.text(*fp(cx[i], base + 15 * i), line, fontsize=9, ha="center",
                 va="baseline")

# ---------------------------------------------------------------- footer
fig.text(*fp(1007, 718), "month-day", fontsize=9, ha="center", va="center")
for (bx0, bx1, tx), label in zip([(107, 353, 111), (452, 689, 457), (814, 1052, 820)],
                                 ["START: 06/05/19 00:00:00",
                                  "INTERVAL: >= 10 Minutes",
                                  "STOP: 06/08/22 23:59:59"]):
    fig.add_artist(Rectangle(fp(bx0, 751), (bx1 - bx0) / W, 24 / H,
                             transform=fig.transFigure, facecolor="none",
                             edgecolor="#333333", lw=1.1))
    fig.text(*fp(tx, 741.7), label, fontsize=9, ha="left", va="center")

fig.savefig("out.png", dpi=100)
